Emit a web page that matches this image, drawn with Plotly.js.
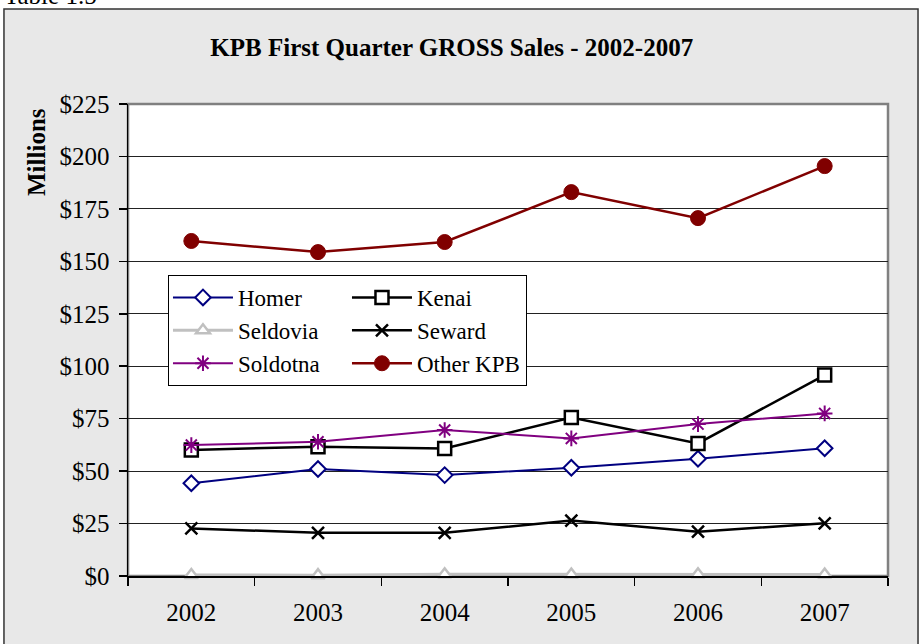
<!DOCTYPE html>
<html>
<head>
<meta charset="utf-8">
<script src="https://cdn.plot.ly/plotly-3.0.1.min.js"></script>
<style>html,body{margin:0;padding:0;background:#fff;}#chart{width:922px;height:644px;}</style>
</head>
<body>
<div id="chart"></div>
<script>
var years = ['2002', '2003', '2004', '2005', '2006', '2007'];
var homer = [44.2, 51.0, 48.1, 51.6, 55.9, 60.9];
var kenai = [60.1, 61.6, 60.8, 75.5, 63.2, 95.8];
var seldovia = [0.5, 0.4, 0.8, 0.7, 0.8, 0.7];
var seward = [22.7, 20.6, 20.6, 26.4, 21.1, 25.1];
var soldotna = [62.4, 64.0, 69.6, 65.6, 72.4, 77.5];
var otherKPB = [159.7, 154.4, 159.2, 183.0, 170.6, 195.4];
var yTicks = [0, 25, 50, 75, 100, 125, 150, 175, 200, 225];
var yTickText = yTicks.map(function (v) { return '$' + v; });

var FONT = 'Liberation Serif, Times New Roman, serif';
var FS = 25;

function tr(name, y, color, symbol, size, fill, lw, mlw, group) {
  return {
    type: 'scatter', mode: 'lines+markers', name: name, x: years, y: y,
    legendgroup: group,
    line: {color: color, width: lw},
    marker: {symbol: symbol, size: size, color: fill, line: {color: color, width: mlw}},
    cliponaxis: false
  };
}

var data = [
  tr('Homer', homer, '#000080', 'diamond', 12, '#ffffff', 2, 2, 'a'),
  tr('Kenai', kenai, '#000000', 'square', 13, '#ffffff', 2.5, 2.5, 'b'),
  tr('Seldovia', seldovia, '#c0c0c0', 'triangle-up', 12, '#ffffff', 3, 2.5, 'a'),
  tr('Seward', seward, '#000000', 'x-thin-open', 12, '#000000', 2.5, 2.5, 'b'),
  tr('Soldotna', soldotna, '#800080', 'asterisk-open', 13, '#800080', 2, 2, 'a'),
  tr('Other KPB', otherKPB, '#800000', 'circle', 15, '#800000', 2.5, 1, 'b')
];

var layout = {
  width: 922, height: 644,
  margin: {l: 128, r: 34, t: 104, b: 68},
  paper_bgcolor: '#ffffff',
  plot_bgcolor: 'rgba(0,0,0,0)',
  font: {family: FONT, size: FS, color: '#000'},
  title: {text: '<b>KPB First Quarter GROSS Sales - 2002-2007</b>',
          font: {family: FONT, size: FS, color: '#000'},
          xref: 'paper', x: 0.426, xanchor: 'center',
          yref: 'container', y: 0.927, yanchor: 'middle'},
  xaxis: {
    type: 'category', range: [-0.5, 5.5], tickson: 'boundaries',
    ticks: 'outside', ticklen: 8, tickcolor: '#000', tickwidth: 1.5,
    showline: true, linecolor: '#000', linewidth: 1.5,
    showgrid: false, zeroline: false, fixedrange: true,
    ticklabelstandoff: 13,
    tickfont: {family: FONT, size: FS, color: '#000'}
  },
  yaxis: {
    range: [0, 225], tickmode: 'array', tickvals: yTicks, ticktext: yTickText,
    ticks: 'outside', ticklen: 8, tickcolor: '#000', tickwidth: 1.5,
    showline: true, linecolor: '#000', linewidth: 1.5,
    showgrid: true, gridcolor: '#222', gridwidth: 1,
    zeroline: false, fixedrange: true,
    ticklabelstandoff: 4,
    tickfont: {family: FONT, size: FS, color: '#000'}
  },
  showlegend: true,
  legend: {
    orientation: 'h', traceorder: 'grouped', tracegroupgap: 0,
    x: 0.0526, xanchor: 'left', y: 0.6377, yanchor: 'top',
    bgcolor: '#ffffff', bordercolor: '#000', borderwidth: 1,
    font: {family: FONT, size: 23, color: '#000'},
    entrywidth: 104, itemwidth: 60
  },
  shapes: [
    {type: 'rect', xref: 'paper', yref: 'paper', layer: 'below',
     x0: -0.1632, x1: 1.0395, y0: -0.16, y1: 1.2013,
     fillcolor: '#e8e8e8', line: {color: '#333', width: 1.5}},
    {type: 'rect', xref: 'paper', yref: 'paper', layer: 'below',
     x0: 0, x1: 1, y0: 0, y1: 1,
     fillcolor: '#ffffff', line: {color: '#808080', width: 2.5}}
  ],
  annotations: [
    {text: '<b>Millions</b>', textangle: -90, showarrow: false,
     xref: 'paper', yref: 'paper', x: (37 - 128) / 760, y: (576 - 152) / 472,
     xanchor: 'center', yanchor: 'middle',
     font: {family: FONT, size: FS, color: '#000'}},
    {text: 'Table 1.5', showarrow: false,
     xref: 'paper', yref: 'paper', x: -0.166, y: (576 + 5) / 472,
     xanchor: 'left', yanchor: 'middle',
     font: {family: FONT, size: FS, color: '#000'}}
  ]
};

Plotly.newPlot('chart', data, layout, {displayModeBar: false, staticPlot: true});
</script>
</body>
</html>
